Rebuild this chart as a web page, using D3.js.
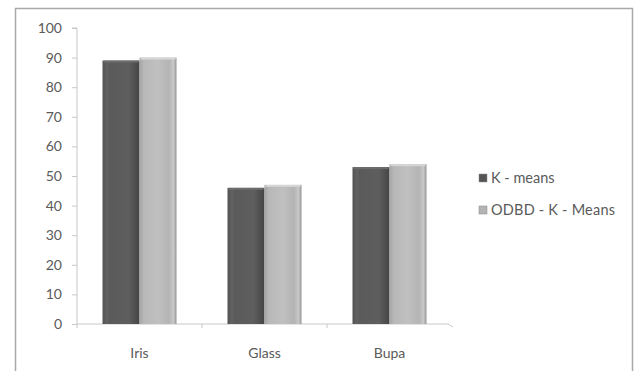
<!DOCTYPE html>
<html>
<head>
<meta charset="utf-8">
<script src="https://cdn.jsdelivr.net/npm/d3@7"></script>
<style>
  html, body { margin: 0; padding: 0; background: #fff; }
  svg { display: block; }
  text { font-family: Lato, "Open Sans", sans-serif; fill: #4a4a4a; }
</style>
</head>
<body>
<svg id="chart" width="634" height="371"></svg>
<script>
// Clustering accuracy per dataset
const categories = ["Iris", "Glass", "Bupa"];
const seriesNames = ["K - means", "ODBD - K - Means"];
const kMeans = [89, 46, 53];
const odbdKMeans = [90, 47, 54];
const yTicks = [0, 10, 20, 30, 40, 50, 60, 70, 80, 90, 100];

const svg = d3.select("#chart");
const plot = { left: 77, right: 452, top: 28, bottom: 324 };

// outer frame
svg.append("rect").attr("x", 15.5).attr("y", 8.5).attr("width", 617).attr("height", 380)
  .attr("fill", "#fff").attr("stroke", "#a8a8a8").attr("stroke-width", 1.5);

const x = d3.scaleBand().domain(categories).range([plot.left, plot.right]).paddingInner(0).paddingOuter(0);
const y = d3.scaleLinear().domain([0, 100]).range([plot.bottom, plot.top]);

const defs = svg.append("defs");
function barGradient(id, stops) {
  const g = defs.append("linearGradient").attr("id", id).attr("x1", "0").attr("x2", "1").attr("y1", "0").attr("y2", "0");
  stops.forEach(s => g.append("stop").attr("offset", s[0]).attr("stop-color", s[1]));
}
barGradient("gDark", [[0, "#525252"], [0.12, "#626262"], [0.2, "#5a5a5a"], [0.7, "#5e5e5e"], [0.85, "#525252"], [1, "#444"]]);
barGradient("gLight", [[0, "#a4a4a4"], [0.12, "#b8b8b8"], [0.5, "#c0c0c0"], [0.8, "#b4b4b4"], [0.92, "#c8c8c8"], [1, "#949494"]]);

// y axis
const yAxis = d3.axisLeft(y).tickValues(yTicks).tickSize(5).tickPadding(10);
const gy = svg.append("g").attr("transform", `translate(${plot.left},0)`).call(yAxis);
gy.select(".domain").attr("stroke", "#c8c8c8").attr("d", `M-5,${plot.top}H0V${plot.bottom}`);
gy.selectAll(".tick line").attr("stroke", "#c8c8c8");
gy.selectAll(".tick text").attr("font-size", 14).style("fill", "#5a5a5a");

// x axis floor line with category dividers
const gx = svg.append("g");
gx.append("line").attr("x1", plot.left).attr("x2", plot.right - 4).attr("y1", plot.bottom).attr("y2", plot.bottom)
  .attr("stroke", "#c8c8c8");
gx.append("line").attr("x1", plot.right - 4).attr("x2", plot.right + 1).attr("y1", plot.bottom).attr("y2", plot.bottom + 3)
  .attr("stroke", "#c8c8c8");
categories.forEach(c => {
  gx.append("line").attr("x1", x(c)).attr("x2", x(c)).attr("y1", plot.bottom).attr("y2", plot.bottom + 4)
    .attr("stroke", "#c8c8c8");
});
gx.selectAll("text.cat").data(categories).join("text").attr("class", "cat")
  .attr("x", d => x(d) + x.bandwidth() / 2).attr("y", plot.bottom + 34)
  .attr("text-anchor", "middle").attr("font-size", 14).style("fill", "#5a5a5a").text(d => d);

// bars
const barW = 37;
const seriesData = [kMeans, odbdKMeans];
const fills = ["url(#gDark)", "url(#gLight)"];
const tops = ["#6c6c6c", "#d6d6d6"];
seriesData.forEach((vals, s) => {
  const g = svg.append("g");
  g.selectAll("rect.bar").data(categories).join("rect").attr("class", "bar")
    .attr("x", d => x(d) + x.bandwidth() / 2 - barW + s * barW)
    .attr("y", (d, i) => y(vals[i]))
    .attr("width", barW)
    .attr("height", (d, i) => y(0) - y(vals[i]))
    .attr("fill", fills[s]);
  // slim top bevel
  g.selectAll("rect.top").data(categories).join("rect").attr("class", "top")
    .attr("x", d => x(d) + x.bandwidth() / 2 - barW + s * barW + 1)
    .attr("y", (d, i) => y(vals[i]))
    .attr("width", barW - 2)
    .attr("height", 2)
    .attr("fill", tops[s]);
});

// legend
const legend = svg.append("g");
const legendFills = ["#555", "#b4b4b4"];
seriesNames.forEach((name, i) => {
  const ly = 178 + i * 32;
  legend.append("rect").attr("x", 479).attr("y", ly - 4).attr("width", 8).attr("height", 8)
    .attr("fill", legendFills[i]).attr("stroke", "#888").attr("stroke-width", 0.5);
  legend.append("text").attr("x", 491).attr("y", ly + 5).attr("font-size", 14.5)
    .attr("textLength", i === 1 ? 124 : null).style("fill", "#5a5a5a").text(name);
});
</script>
</body>
</html>
